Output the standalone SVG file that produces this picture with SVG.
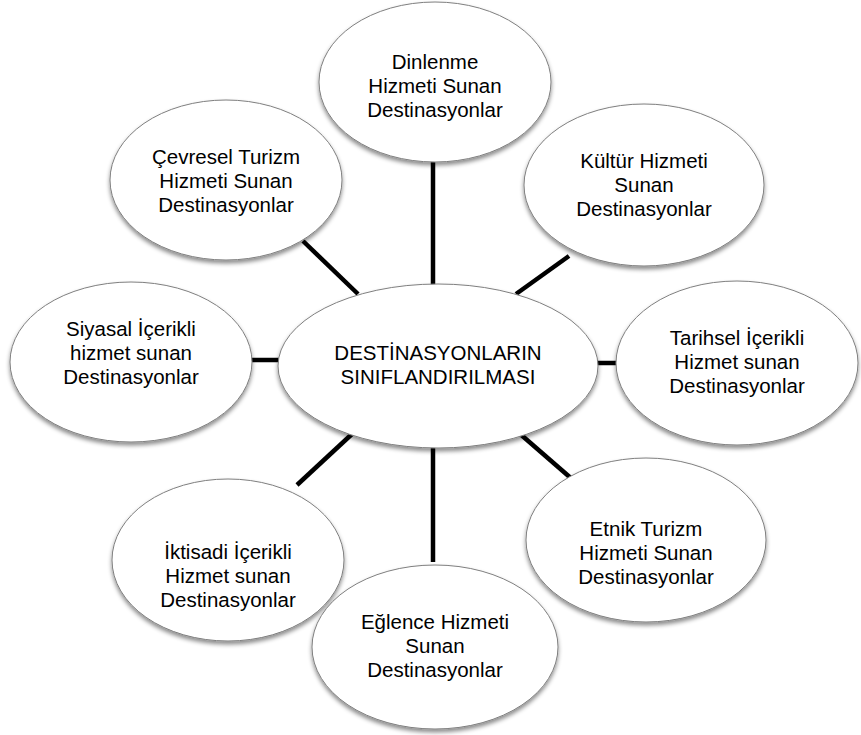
<svg xmlns="http://www.w3.org/2000/svg" width="861" height="735" viewBox="0 0 861 735">
<defs>
<filter id="sh" x="-10%" y="-10%" width="120%" height="130%">
<feDropShadow dx="0" dy="3" stdDeviation="2" flood-color="#000" flood-opacity="0.45"/>
</filter>
<style>
.e{fill:#fff;stroke:#7f7f7f;stroke-width:1;filter:url(#sh)}
.t{font-family:"Liberation Sans",Arial,sans-serif;font-size:20.5px;fill:#000;text-anchor:middle}
.c{stroke:#000;stroke-width:4.5;fill:none}
</style>
</defs>
<rect width="861" height="735" fill="#fff"/>
<g id="connectors">
<line class="c" x1="433" y1="160" x2="433" y2="287"/>
<line class="c" x1="303" y1="241" x2="358" y2="294"/>
<line class="c" x1="569" y1="256" x2="516" y2="294"/>
<line class="c" x1="250" y1="360" x2="281" y2="360"/>
<line class="c" x1="590" y1="363" x2="617" y2="363"/>
<line class="c" x1="297" y1="485" x2="352" y2="434"/>
<line class="c" x1="433" y1="446" x2="433" y2="562"/>
<line class="c" x1="519" y1="433" x2="580" y2="486"/>
</g>
<g id="center">
<ellipse class="e" cx="438" cy="366" rx="160" ry="82"/>
<text class="t" x="438" y="360">DESTİNASYONLARIN</text>
<text class="t" x="438" y="384">SINIFLANDIRILMASI</text>
</g>
<g id="dinlenme">
<ellipse class="e" cx="435" cy="82" rx="116" ry="80"/>
<text class="t" x="435" y="69">Dinlenme</text>
<text class="t" x="435" y="93">Hizmeti Sunan</text>
<text class="t" x="435" y="117">Destinasyonlar</text>
</g>
<g id="cevresel">
<ellipse class="e" cx="226" cy="180" rx="116" ry="80"/>
<text class="t" x="226" y="164">Çevresel Turizm</text>
<text class="t" x="226" y="188">Hizmeti Sunan</text>
<text class="t" x="226" y="212">Destinasyonlar</text>
</g>
<g id="kultur">
<ellipse class="e" cx="644" cy="185" rx="120" ry="81"/>
<text class="t" x="644" y="168">Kültür Hizmeti</text>
<text class="t" x="644" y="192">Sunan</text>
<text class="t" x="644" y="216">Destinasyonlar</text>
</g>
<g id="siyasal">
<ellipse class="e" cx="131" cy="362" rx="121" ry="80"/>
<text class="t" x="131" y="336">Siyasal İçerikli</text>
<text class="t" x="131" y="360">hizmet sunan</text>
<text class="t" x="131" y="384">Destinasyonlar</text>
</g>
<g id="tarihsel">
<ellipse class="e" cx="737" cy="363" rx="121" ry="82"/>
<text class="t" x="737" y="345">Tarihsel İçerikli</text>
<text class="t" x="737" y="369">Hizmet sunan</text>
<text class="t" x="737" y="393">Destinasyonlar</text>
</g>
<g id="iktisadi">
<ellipse class="e" cx="228" cy="560" rx="116" ry="81"/>
<text class="t" x="228" y="559">İktisadi İçerikli</text>
<text class="t" x="228" y="583">Hizmet sunan</text>
<text class="t" x="228" y="607">Destinasyonlar</text>
</g>
<g id="etnik">
<ellipse class="e" cx="646" cy="540" rx="120" ry="82"/>
<text class="t" x="646" y="536">Etnik Turizm</text>
<text class="t" x="646" y="560">Hizmeti Sunan</text>
<text class="t" x="646" y="584">Destinasyonlar</text>
</g>
<g id="eglence">
<ellipse class="e" cx="435" cy="647" rx="123" ry="82"/>
<text class="t" x="435" y="629">Eğlence Hizmeti</text>
<text class="t" x="435" y="653">Sunan</text>
<text class="t" x="435" y="677">Destinasyonlar</text>
</g>
</svg>
